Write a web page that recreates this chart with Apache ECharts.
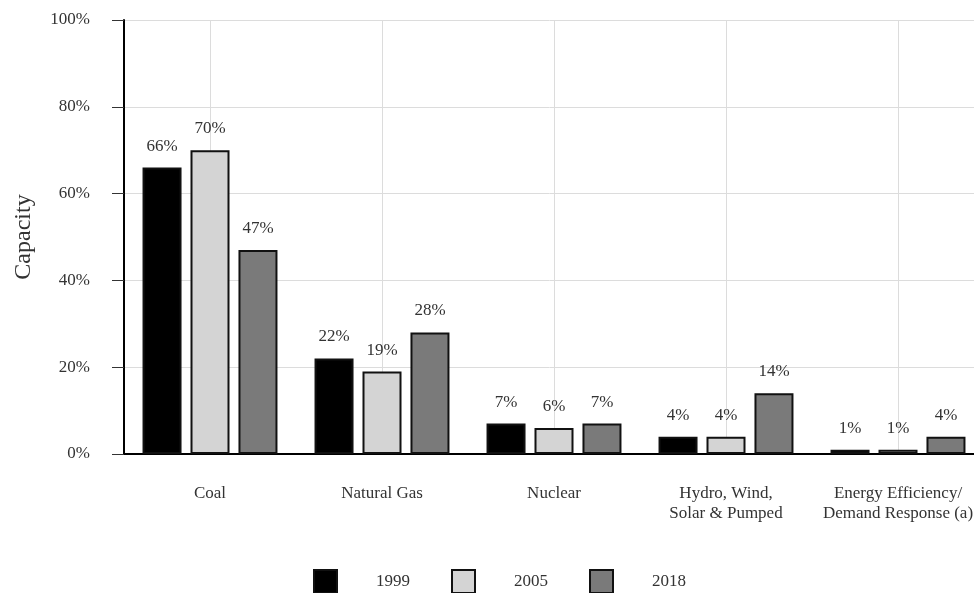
<!DOCTYPE html>
<html><head><meta charset="utf-8">
<script src="https://cdn.jsdelivr.net/npm/echarts@6/dist/echarts.min.js"></script>
<style>html,body{margin:0;padding:0;background:#fff}#c{width:974px;height:593px}</style>
</head><body><div id="c"></div>
<script>
const categories = ['Coal', 'Natural Gas', 'Nuclear', 'Hydro, Wind,\nSolar & Pumped', 'Energy Efficiency/\nDemand Response (a)'];
const years = ['1999', '2005', '2018'];
const values1999 = [66, 22, 7, 4, 1];
const values2005 = [70, 19, 6, 4, 1];
const values2018 = [47, 28, 7, 14, 4];
const colors = ['#000000', '#d4d4d4', '#7a7a7a'];
const yTicks = [0, 20, 40, 60, 80, 100];

const font = 'Liberation Serif, Times New Roman, serif';
const seriesData = [values1999, values2005, values2018];
const chart = echarts.init(document.getElementById('c'));
const series = years.map((y, i) => ({
  name: y, type: 'bar', data: seriesData[i], z: 10,
  barWidth: 39, barGap: '23%',
  itemStyle: { color: colors[i], borderColor: '#111', borderWidth: 2 },
  label: { show: true, position: 'top', distance: 13, formatter: '{c}%',
    fontFamily: font, fontSize: 17, color: '#333' }
}));
// vertical grid lines at category centres
series.push({
  name: 'grid', type: 'line', data: [], z: 0, silent: true,
  markLine: {
    silent: true, symbol: 'none', z: 1,
    label: { show: false },
    lineStyle: { color: '#dcdcdc', type: 'solid', width: 1 },
    data: categories.map(c => ({ xAxis: c }))
  }
});
chart.setOption({
  animation: false,
  textStyle: { fontFamily: font },
  grid: { left: 124, top: 20, width: 860, height: 434, outerBoundsMode: 'none' },
  legend: {
    top: 564, left: 308,
    icon: 'rect',
    itemWidth: 23, itemHeight: 23, itemGap: 41,
    itemStyle: { borderColor: '#111', borderWidth: 2 },
    textStyle: { fontFamily: font, fontSize: 17, color: '#333', padding: [0, 0, 0, 34] },
    data: years
  },
  xAxis: {
    type: 'category', data: categories,
    axisLine: { lineStyle: { color: '#000', width: 2 } },
    axisTick: { alignWithLabel: true, length: 8, lineStyle: { color: '#333' } },
    axisLabel: { fontFamily: font, fontSize: 17, color: '#333', margin: 30, lineHeight: 20, interval: 0 },
    splitLine: { show: false }
  },
  yAxis: {
    type: 'value', min: 0, max: 100, interval: 20,
    name: 'Capacity', nameLocation: 'middle', nameGap: 88,
    nameTextStyle: { fontFamily: font, fontSize: 24, color: '#333' },
    axisLine: { show: true, lineStyle: { color: '#000', width: 2 } },
    axisTick: { show: true, length: 12, lineStyle: { color: '#333' } },
    axisLabel: { fontFamily: font, fontSize: 17, color: '#333', margin: 34,
      formatter: v => yTicks.includes(v) ? v + '%' : '' },
    splitLine: { lineStyle: { color: '#dcdcdc' } }
  },
  series: series
});
</script></body></html>
